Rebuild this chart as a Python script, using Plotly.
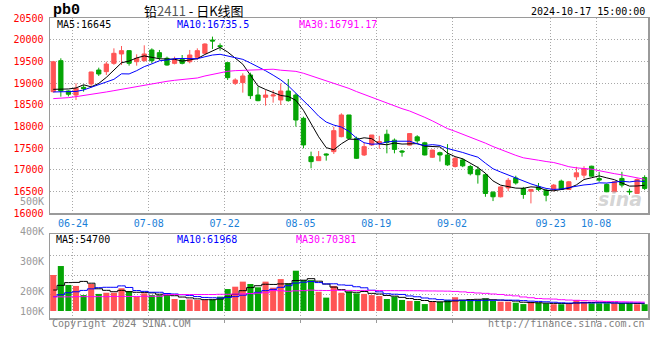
import plotly.graph_objects as go

# ---------------- data ----------------
dates = ["06-19", "06-20", "06-21", "06-24", "06-25", "06-26", "06-27", "06-28",
         "07-01", "07-02", "07-03", "07-04", "07-05", "07-08", "07-09", "07-10", "07-11", "07-12",
         "07-15", "07-16", "07-17", "07-18", "07-19", "07-22", "07-23", "07-24", "07-25", "07-26",
         "07-29", "07-30", "07-31", "08-01", "08-02", "08-05", "08-06", "08-07", "08-08", "08-09",
         "08-12", "08-13", "08-14", "08-15", "08-16", "08-19", "08-20", "08-21", "08-22", "08-23",
         "08-26", "08-27", "08-28", "08-29", "08-30", "09-02", "09-03", "09-04", "09-05", "09-06",
         "09-09", "09-10", "09-11", "09-12", "09-13", "09-18", "09-19", "09-20",
         "09-23", "09-24", "09-25", "09-26", "09-27", "09-30",
         "10-08", "10-09", "10-10", "10-11", "10-14", "10-15", "10-16"]

open_ = [18800, 19515, 18816, 18723, 18900, 18977, 19300, 19262, 19454, 19670,
         19746, 19492, 19515, 19762, 19700, 19570, 19454, 19546, 19492, 19592,
         19685, 19992, 19860, 19470, 18993, 19008, 19185, 18723, 18670, 18700,
         18608, 18815, 18723, 18185, 17300, 17208, 17362, 17416, 17762, 18262,
         17723, 17339, 17570, 17600, 17818, 17681, 17430, 17567, 17757, 17620,
         17286, 17392, 17339, 17073, 17225, 17073, 16997, 16883, 16480, 16374,
         16579, 16807, 16564, 16503, 16602, 16526, 16544, 16736, 16544, 16835,
         16874, 17080, 16797, 16659, 16490, 16797, 16500, 16452, 16820]
high = [19510, 19570, 18830, 18992, 18954, 19260, 19354, 19492, 19800, 19854,
        19760, 19662, 19870, 19800, 19762, 19608, 19608, 19646, 19762, 19800,
        19915, 20070, 19915, 19470, 19108, 19223, 19239, 18915, 18838, 18838,
        18992, 19092, 18762, 18223, 17416, 17430, 17377, 17992, 18300, 18262,
        17762, 17631, 17800, 17780, 17924, 17720, 17453, 17840, 17795, 17643,
        17460, 17415, 17590, 17300, 17263, 17111, 17073, 16921, 16503, 16610,
        16807, 16860, 16602, 16556, 16693, 16556, 16670, 16770, 16740, 17065,
        17080, 17090, 16950, 16680, 16730, 16950, 16560, 16800, 16870]
low = [18780, 18685, 18690, 18608, 18800, 18920, 19162, 19185, 19420, 19415,
       19400, 19400, 19492, 19454, 19530, 19400, 19430, 19430, 19454, 19530,
       19670, 19785, 19746, 19070, 18954, 18777, 18631, 18580, 18477, 18546,
       18492, 18570, 17993, 17493, 17032, 17200, 17208, 17362, 17746, 17708,
       17246, 17315, 17546, 17480, 17377, 17377, 17300, 17560, 17605, 17330,
       17270, 17187, 17088, 17050, 17058, 16868, 16678, 16374, 16275, 16360,
       16503, 16655, 16328, 16222, 16503, 16270, 16500, 16540, 16530, 16759,
       16797, 16840, 16720, 16480, 16480, 16590, 16420, 16440, 16529]
close = [19490, 18816, 18740, 18877, 18870, 19254, 19208, 19438, 19685, 19746,
         19454, 19570, 19670, 19515, 19592, 19415, 19546, 19454, 19646, 19746,
         19900, 19970, 19840, 19123, 19070, 19162, 18708, 18592, 18723, 18723,
         18815, 18592, 18146, 17570, 17185, 17300, 17340, 17900, 18262, 17723,
         17262, 17531, 17800, 17650, 17628, 17468, 17408, 17833, 17666, 17339,
         17453, 17339, 17111, 17263, 17088, 16906, 16883, 16450, 16374, 16602,
         16754, 16693, 16427, 16541, 16541, 16410, 16644, 16544, 16720, 16927,
         17027, 16850, 16759, 16490, 16720, 16644, 16490, 16774, 16567]

# volume in thousands of lots
volume_k = [201, 247, 150, 145, 98, 155, 104, 110, 110, 133,
            119, 90, 107, 98, 98, 93, 78, 73, 76, 73,
            73, 76, 90, 129, 141, 167, 155, 138, 167, 136,
            180, 158, 223, 175, 175, 115, 85, 145, 110, 115,
            107, 104, 98, 93, 78, 90, 73, 68, 68, 52,
            64, 64, 73, 87, 73, 76, 73, 81, 68, 64,
            64, 59, 52, 59, 59, 56, 51, 51, 56, 73,
            64, 56, 56, 56, 56, 56, 56, 51, 51]

# moving-average values before a full window exists
ma5_head = [18854, 18854, 18862, 18885]
ma10_head = [18793, 18793, 18793, 18805, 18839, 18900, 18954, 19016, 19085]
ma30_head = [18639, 18646, 18662, 18685, 18708, 18739, 18762, 18793, 18823, 18854,
             18885, 18915, 18954, 18992, 19016, 19039, 19062, 19077, 19093, 19116,
             19162, 19200, 19239, 19270, 19285, 19292, 19300, 19300, 19305]
vma5_head = [124, 148, 162, 163]
vma10_head = [90, 100, 110, 115, 122, 130, 136, 138, 138]
vma30_head = [89, 89, 89, 90, 90, 90, 90, 90, 91, 91,
              91, 91, 92, 92, 92, 100, 101, 101, 101, 101,
              101, 101, 102, 102, 103, 104, 106, 108, 110]

tick_labels = ["06-24", "07-08", "07-22", "08-05", "08-19", "09-02", "09-23", "10-08"]
price_ticks = [16000, 16500, 17000, 17500, 18000, 18500, 19000, 19500, 20000, 20500]

title_symbol = "pb0"
title_name = "铅2411 - 日K线图"
stamp = "2024-10-17 15:00:00"
ma_price_text = ["MA5:16645", "MA10:16735.5", "MA30:16791.17"]
ma_vol_text = ["MA5:54700", "MA10:61968", "MA30:70381"]
vol_labels = ["500K", "400K", "300K", "200K", "100K"]


def moving_avg(vals, n, head):
    out = []
    for i in range(len(vals)):
        if i < n - 1:
            out.append(head[i])
        else:
            out.append(sum(vals[i - n + 1:i + 1]) / n)
    return out


# ---------------- style ----------------
RED = "#ff5555"
GREEN = "#05a505"
MONO = "DejaVu Sans Mono"
GRID = "#a8a8a8"
FRAME = "#9a9a9a"
VOL_BASE = 16.4

idx = list(range(len(dates)))
colors = [RED if c >= o else GREEN for o, c in zip(open_, close)]
tickpos = [dates.index(t) - 0.4 for t in tick_labels]
xr = [-0.43, 78.44]

fig = go.Figure()

fig.add_trace(go.Candlestick(
    x=idx, open=open_, high=high, low=low, close=close,
    increasing=dict(line=dict(color=RED, width=1), fillcolor=RED),
    decreasing=dict(line=dict(color=GREEN, width=1), fillcolor=GREEN),
    whiskerwidth=0, xaxis="x", yaxis="y", showlegend=False, hoverinfo="skip"))

for n, head, col in [(5, ma5_head, "#000000"), (10, ma10_head, "#0000ff"), (30, ma30_head, "#ff00ff")]:
    fig.add_trace(go.Scatter(x=idx, y=moving_avg(close, n, head), mode="lines",
                             line=dict(color=col, width=1), xaxis="x", yaxis="y",
                             showlegend=False, hoverinfo="skip"))

fig.add_trace(go.Bar(x=idx, y=[v - VOL_BASE for v in volume_k], base=VOL_BASE,
                     marker=dict(color=colors, line=dict(width=0)),
                     xaxis="x2", yaxis="y2", showlegend=False, hoverinfo="skip"))

for n, head, col in [(5, vma5_head, "#000000"), (10, vma10_head, "#0000ff"), (30, vma30_head, "#ff00ff")]:
    fig.add_trace(go.Scatter(x=idx, y=moving_avg(volume_k, n, head), mode="lines",
                             line=dict(color=col, width=1, shape="hvh"), xaxis="x2", yaxis="y2",
                             showlegend=False, hoverinfo="skip"))

gridstyle = dict(showgrid=True, gridcolor=GRID, griddash="1px,2px", gridwidth=1, zeroline=False)
frame = dict(showline=True, linecolor=FRAME, linewidth=1.5, mirror=True)

fig.update_layout(
    width=660, height=360,
    margin=dict(l=50, r=10, t=18, b=42),
    paper_bgcolor="white", plot_bgcolor="white",
    boxgap=0.2, bargap=0.2,
    xaxis=dict(domain=[0, 1], anchor="y", range=xr, tickmode="array", tickvals=tickpos,
               ticktext=tick_labels, tickfont=dict(family=MONO, size=10, color="#1a80d8"),
               ticks="", rangeslider=dict(visible=False), fixedrange=True,
               **gridstyle, **frame),
    yaxis=dict(domain=[0.35, 1], anchor="x", range=[16000, 20500], tickmode="array",
               tickvals=price_ticks, ticktext=[str(v) for v in price_ticks],
               tickfont=dict(family=MONO, size=10, color="#ff0000"),
               ticks="outside", ticklen=3, tickcolor="rgba(0,0,0,0)",
               **gridstyle, **frame),
    xaxis2=dict(domain=[0, 1], anchor="y2", range=xr, tickmode="array", tickvals=tickpos,
                showticklabels=False, ticks="outside", ticklen=3, tickcolor=FRAME,
                **gridstyle, **frame),
    yaxis2=dict(domain=[0, 0.279], anchor="x2", range=[-19.5, 409.7], tickmode="array",
                tickvals=[100, 200, 300], showticklabels=False, ticks="",
                **gridstyle, **frame),
)


def px_y(y):
    return (318 - y) / 300.0


def px_x(x):
    return (x - 50) / 600.0


ann = []


def add_text(text, x, y, anchor, color, size=10, family=MONO):
    ann.append(dict(text=text, x=px_x(x), y=px_y(y), xref="paper", yref="paper",
                    xanchor=anchor, yanchor="middle", showarrow=False,
                    font=dict(family=family, size=size, color=color)))


add_text("<b>" + title_symbol + "</b>", 51, 11, "left", "#000000", size=15, family="Liberation Mono")
add_text("铅<span style='color:#555555'>2411</span> - 日K线图", 194, 10, "center", "#000000",
         size=13, family="Noto Sans CJK SC")
add_text(stamp, 649, 12, "right", "#000000")

for t, x, c in zip(ma_price_text, [55, 175, 298], ["#000000", "#0000ff", "#ff00ff"]):
    add_text(t, x, 24, "left", c)
for t, x, c in zip(ma_vol_text, [54, 175, 295], ["#000000", "#0000ff", "#ff00ff"]):
    add_text(t, x, 239, "left", c)

for t, y in zip(vol_labels, [201, 231, 261, 291, 311]):
    add_text(t, 46, y, "right", "#999999")

add_text("Copyright 2024 SINA.COM", 50, 323, "left", "#808080")
add_text("http://finance.sina.com.cn", 649, 323, "right", "#808080")
add_text("<b><i>sina</i></b>", 622, 199, "center", "rgba(160,160,160,0.45)", size=19,
         family="DejaVu Sans")

fig.update_layout(annotations=ann)

fig.write_html("out.html", config={"displayModeBar": False, "staticPlot": True},
               post_script="document.body.style.margin='0';document.body.style.overflow='hidden';")
